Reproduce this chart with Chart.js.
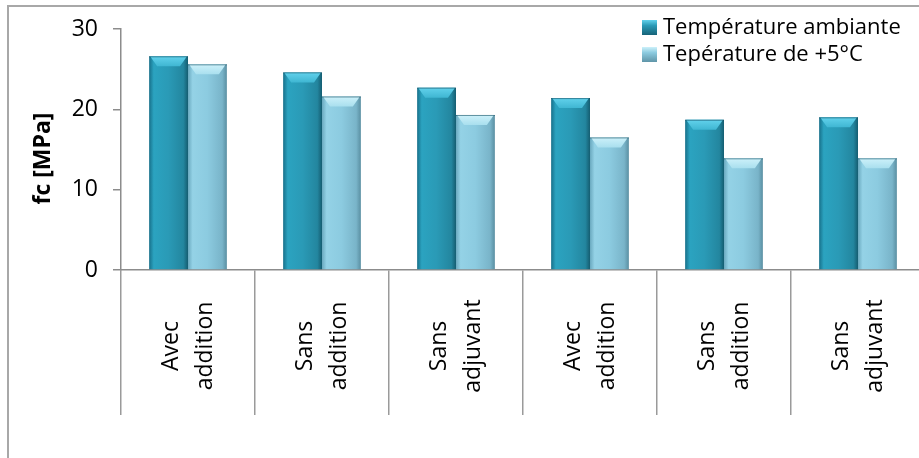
<!DOCTYPE html>
<html>
<head>
<meta charset="utf-8">
<script src="https://cdn.jsdelivr.net/npm/chart.js@4.4.1/dist/chart.umd.min.js"></script>
<style>
  html, body { margin: 0; padding: 0; background: #fff; overflow: hidden; }
  #frame { position: absolute; left: 7px; top: 5px; width: 1000px; height: 1000px; border: 2px solid #a8a8a8; }
  #wrap { position: absolute; left: 0; top: 0; width: 930px; height: 458px; }
</style>
</head>
<body>
<div id="frame"></div>
<div id="wrap"><canvas id="chart" width="930" height="458"></canvas></div>
<script>
// data
const categories = [
    ['Avec', 'addition'], ['Sans', 'addition'], ['Sans', 'adjuvant'],
    ['Avec', 'addition'], ['Sans', 'addition'], ['Sans', 'adjuvant']
];
const ambiante = [26.6, 24.6, 22.7, 21.4, 18.7, 19.0];
const plus5 = [25.6, 21.6, 19.3, 16.5, 13.9, 13.9];
const seriesNames = ['Température ambiante', 'Tepérature de +5°C'];
const yTicks = [0, 10, 20, 30];
const yTitle = 'fc [MPa]';

const CAT_PCT = 0.58;
const darkStops = ['#17708a', '#2ba3c0', '#2a9ab6', '#23869f', '#155d71'];
const lightStops = ['#6aa9bf', '#94d2e6', '#8ccbe0', '#79b4c9', '#5a8fa2'];
const capColors = ['#62d2ec', '#cdf1fa'];

// horizontal shading per bar, placed from the x scale
function barFill(c, stops) {
    const chart = c.chart;
    const xs = chart.scales.x;
    if (!chart.chartArea || !xs || c.dataIndex === undefined) return stops[2];
    const center = xs.getPixelForValue(c.dataIndex);
    const w = (xs.width / categories.length) * CAT_PCT / 2;
    const left = center + (c.datasetIndex - 1) * w;
    const g = chart.ctx.createLinearGradient(left, 0, left + w, 0);
    g.addColorStop(0, stops[0]);
    g.addColorStop(0.12, stops[1]);
    g.addColorStop(0.5, stops[2]);
    g.addColorStop(0.88, stops[3]);
    g.addColorStop(1, stops[4]);
    return g;
}

// bevel on top of each bar
const bevel = {
    id: 'bevel',
    afterDatasetsDraw(chart) {
        const ctx = chart.ctx;
        chart.data.datasets.forEach((ds, di) => {
            chart.getDatasetMeta(di).data.forEach(el => {
                const { x, y, width } = el.getProps(['x', 'y', 'width'], true);
                const l = x - width / 2, r = x + width / 2;
                ctx.save();
                const g = ctx.createLinearGradient(0, y, 0, y + 10);
                g.addColorStop(0, capColors[di]);
                g.addColorStop(1, di === 0 ? '#3fb6d2' : '#a9dfee');
                ctx.fillStyle = g;
                ctx.beginPath();
                ctx.moveTo(l + 1, y);
                ctx.lineTo(r - 1, y);
                ctx.lineTo(r - 8, y + 10);
                ctx.lineTo(l + 8, y + 10);
                ctx.closePath();
                ctx.fill();
                ctx.strokeStyle = 'rgba(20,80,100,0.6)';
                ctx.lineWidth = 1;
                ctx.beginPath();
                ctx.moveTo(l, y + 0.5);
                ctx.lineTo(r, y + 0.5);
                ctx.stroke();
                ctx.restore();
            });
        });
    }
};

// rotated, centred two-line category labels and the y title
const axisText = {
    id: 'axisText',
    afterDraw(chart) {
        const ctx = chart.ctx;
        const xs = chart.scales.x;
        const area = chart.chartArea;
        const midY = xs.top + 76;
        ctx.save();
        ctx.font = '23px "Open Sans"';
        ctx.fillStyle = '#000';
        ctx.textAlign = 'center';
        ctx.textBaseline = 'middle';
        chart.data.labels.forEach((lines, i) => {
            const cx = xs.getPixelForValue(i);
            ctx.save();
            ctx.translate(cx, midY);
            ctx.rotate(-Math.PI / 2);
            lines.forEach((t, j) => {
                ctx.fillText(t, 0, (j - (lines.length - 1) / 2) * 34);
            });
            ctx.restore();
        });
        // y title
        ctx.font = 'bold 23px "Open Sans"';
        ctx.translate(43, (area.top + area.bottom) / 2 + 9);
        ctx.rotate(-Math.PI / 2);
        ctx.fillText(yTitle, 0, 0);
        ctx.restore();
    }
};

// legend in the top-right corner
const cornerLegend = {
    id: 'cornerLegend',
    afterDraw(chart) {
        const ctx = chart.ctx;
        const fills = [darkStops, lightStops];
        ctx.save();
        ctx.font = '22px "Open Sans"';
        ctx.textBaseline = 'middle';
        ctx.textAlign = 'left';
        seriesNames.forEach((name, i) => {
            const y = 28 + i * 27;
            const g = ctx.createLinearGradient(0, y - 8, 0, y + 8);
            g.addColorStop(0, capColors[i]);
            g.addColorStop(0.35, fills[i][2]);
            g.addColorStop(1, fills[i][4]);
            ctx.fillStyle = g;
            ctx.fillRect(642, y - 8, 15, 15);
            ctx.fillStyle = '#000';
            ctx.fillText(name, 663, y);
        });
        ctx.restore();
    }
};

new Chart(document.getElementById('chart'), {
    type: 'bar',
    data: {
        labels: categories,
        datasets: [{
            label: seriesNames[0],
            data: ambiante,
            backgroundColor: c => barFill(c, darkStops),
            borderWidth: 0
        }, {
            label: seriesNames[1],
            data: plus5,
            backgroundColor: c => barFill(c, lightStops),
            borderWidth: 0
        }]
    },
    options: {
        responsive: false,
        animation: false,
        layout: { padding: { left: 25, top: 29, right: 5, bottom: 43 } },
        plugins: {
            legend: { display: false },
            tooltip: { enabled: false }
        },
        datasets: {
            bar: { barPercentage: 1, categoryPercentage: CAT_PCT }
        },
        scales: {
            x: {
                grid: {
                    offset: true,
                    drawOnChartArea: false,
                    drawTicks: true,
                    tickLength: 145,
                    color: '#9a9a9a',
                    lineWidth: 1.5
                },
                border: { color: '#8c8c8c', width: 1.5 },
                ticks: { display: false },
                afterFit: s => { s.height = 145; }
            },
            y: {
                min: 0,
                max: 30,
                afterBuildTicks: s => { s.ticks = yTicks.map(v => ({ value: v })); },
                grid: {
                    drawOnChartArea: false,
                    drawTicks: true,
                    tickLength: 8,
                    color: '#8c8c8c',
                    lineWidth: 1.5
                },
                border: { color: '#8c8c8c', width: 1.5 },
                ticks: {
                    padding: 15,
                    color: '#000',
                    font: { family: 'Open Sans', size: 23 }
                },
                afterFit: s => { s.width = 96; }
            }
        }
    },
    plugins: [bevel, axisText, cornerLegend]
});
</script>
</body>
</html>
